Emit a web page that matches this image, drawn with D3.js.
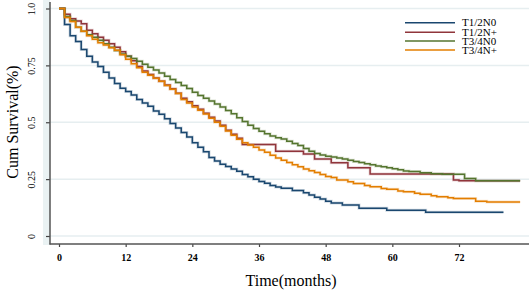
<!DOCTYPE html>
<html>
<head>
<meta charset="utf-8">
<script src="https://cdn.jsdelivr.net/npm/d3@7"></script>
<style>
  body { margin: 0; background: #fff; }
  svg text { font-family: "Liberation Serif", "Times New Roman", serif; fill: #000; }
</style>
</head>
<body>
<div id="chart"></div>
<script>
// series names and colours (Stata s2color)
const groups = ["T1/2N0", "T1/2N+", "T3/4N0", "T3/4N+"];
const colors = ["#1a476f", "#90353b", "#55752f", "#e37e00"];

const xTicks = [0, 12, 24, 36, 48, 60, 72];
const yTicks = [0, 0.25, 0.5, 0.75, 1.0];
const yTickLabels = ["0", "0.25", "0.5", "0.75", "1.0"];

// [month, survival] at each step
const t12n0 = [[0,1],[1,0.93],[2,0.88],[3,0.855],[4,0.82],[5,0.79],[6,0.765],[7,0.745],[8,0.72],[9,0.695],
  [10,0.67],[11,0.65],[12,0.635],[13,0.62],[14,0.6],[15,0.585],[16,0.57],[17,0.55],[18,0.535],[19,0.515],
  [20,0.495],[21,0.475],[22,0.455],[23,0.435],[24,0.41],[25,0.39],[26,0.37],[27,0.345],[28,0.33],[29,0.315],
  [30,0.305],[31,0.295],[32,0.285],[33,0.27],[34,0.26],[35,0.25],[36,0.24],[37,0.232],[38,0.222],[39,0.215],
  [40,0.21],[42,0.2],[44,0.19],[45,0.18],[46,0.17],[47,0.163],[48,0.153],[49,0.145],[51,0.136],[54,0.122],
  [59,0.113],[66,0.104],[80,0.104]];

const t12np = [[0,1],[1,0.975],[2,0.955],[3,0.945],[4,0.933],[5,0.904],[6,0.889],[7,0.874],[8,0.86],[9,0.845],
  [10,0.83],[11,0.81],[12,0.79],[13,0.77],[14,0.745],[15,0.725],[16,0.71],[17,0.695],[18,0.68],[19,0.664],
  [20,0.647],[21,0.628],[22,0.605],[23,0.59],[24,0.572],[25,0.557],[26,0.54],[27,0.522],[28,0.505],[29,0.487],
  [30,0.465],[31,0.447],[32,0.43],[33,0.402],[39,0.373],[44,0.36],[46,0.338],[49,0.322],[52,0.3],[56,0.272],
  [71,0.246],[72,0.243],[83,0.243]];

const t34n0 = [[0,1],[1,0.965],[2,0.947],[3,0.918],[4,0.9],[5,0.885],[6,0.874],[7,0.86],[8,0.845],[9,0.83],
  [10,0.815],[11,0.8],[12,0.79],[13,0.78],[14,0.768],[15,0.755],[16,0.742],[17,0.73],[18,0.716],[19,0.702],
  [20,0.688],[21,0.675],[22,0.662],[23,0.648],[24,0.632],[25,0.618],[26,0.605],[27,0.593],[28,0.58],[29,0.567],
  [30,0.552],[31,0.537],[32,0.52],[33,0.503],[34,0.487],[35,0.473],[36,0.46],[37,0.449],[38,0.44],[39,0.432],
  [40,0.426],[41,0.416],[42,0.407],[43,0.398],[44,0.385],[45,0.372],[46,0.363],[47,0.356],[48,0.351],[49,0.347],
  [50,0.343],[51,0.338],[52,0.333],[53,0.328],[54,0.323],[55,0.318],[56,0.313],[57,0.308],[58,0.304],[59,0.3],
  [60,0.296],[61,0.291],[62,0.286],[63,0.283],[65,0.278],[67,0.274],[69,0.271],[73,0.253],[75,0.243],[83,0.243]];

const t34np = [[0,1],[1,0.96],[2,0.943],[3,0.918],[4,0.9],[5,0.88],[6,0.865],[7,0.85],[8,0.84],[9,0.828],
  [10,0.816],[11,0.797],[12,0.777],[13,0.757],[14,0.74],[15,0.72],[16,0.707],[17,0.693],[18,0.68],[19,0.662],
  [20,0.645],[21,0.626],[22,0.6],[23,0.585],[24,0.567],[25,0.553],[26,0.536],[27,0.518],[28,0.5],[29,0.482],
  [30,0.462],[31,0.443],[32,0.425],[33,0.41],[34,0.4],[35,0.39],[36,0.378],[37,0.368],[38,0.355],[39,0.343],
  [40,0.333],[41,0.323],[42,0.313],[43,0.304],[44,0.295],[45,0.287],[46,0.279],[47,0.27],[48,0.262],[49,0.257],
  [50,0.246],[52,0.238],[53,0.231],[55,0.222],[56,0.216],[58,0.209],[59,0.205],[61,0.198],[62,0.194],[64,0.188],
  [65,0.184],[67,0.177],[68,0.172],[70,0.168],[71,0.165],[75,0.153],[77,0.15],[83,0.15]];

const seriesData = [t12n0, t12np, t34n0, t34np];

const width = 529, height = 293;
const svg = d3.select("#chart").append("svg")
  .attr("width", width).attr("height", height);

const x = d3.scaleLinear().domain([0, 72]).range([59, 459]);
const y = d3.scaleLinear().domain([0, 1]).range([236, 8.5]);

const axisX = 50, axisY = 244;

// light strip behind the y axis
svg.append("rect").attr("x", 43).attr("y", 0).attr("width", axisX - 43).attr("height", axisY + 1)
  .attr("fill", "#eaf2f3");

// gridlines
svg.append("g").selectAll("line").data(yTicks).enter().append("line")
  .attr("x1", axisX).attr("x2", width)
  .attr("y1", d => y(d)).attr("y2", d => y(d))
  .attr("stroke", "#e6eef0").attr("stroke-width", 1.5);

// y axis
const yAxis = svg.append("g").attr("transform", `translate(${axisX},0)`)
  .call(d3.axisLeft(y).tickValues(yTicks).tickSize(4).tickFormat((d, i) => yTickLabels[i]));
yAxis.select(".domain").remove();
yAxis.selectAll(".tick line").attr("stroke", "#444").attr("stroke-width", 1.2);
yAxis.selectAll(".tick text")
  .attr("transform", "rotate(-90)")
  .attr("x", 0).attr("y", -15).attr("dy", 0)
  .attr("text-anchor", "middle")
  .style("font-family", "'Liberation Serif', serif").style("font-size", "10px");
svg.append("line").attr("x1", axisX).attr("x2", axisX).attr("y1", 2).attr("y2", axisY + 0.5)
  .attr("stroke", "#555").attr("stroke-width", 1.5);

// x axis
const xAxis = svg.append("g").attr("transform", `translate(0,${axisY})`)
  .call(d3.axisBottom(x).tickValues(xTicks).tickSize(3));
xAxis.select(".domain").remove();
xAxis.selectAll(".tick line").attr("stroke", "#444").attr("stroke-width", 1.2);
xAxis.selectAll(".tick text")
  .attr("y", 17).attr("dy", 0)
  .style("font-family", "'Liberation Serif', serif").style("font-size", "10px").style("font-weight", "bold");
svg.append("line").attr("x1", axisX - 0.5).attr("x2", width).attr("y1", axisY).attr("y2", axisY)
  .attr("stroke", "#555").attr("stroke-width", 1.5);

// axis titles
svg.append("text").attr("x", 291).attr("y", 286).attr("text-anchor", "middle")
  .style("font-size", "16px").text("Time(months)");
svg.append("text").attr("transform", "translate(18,122) rotate(-90)").attr("text-anchor", "middle")
  .style("font-size", "16px").text("Cum Survival(%)");

// survival curves
const line = d3.line().x(d => x(d[0])).y(d => y(d[1])).curve(d3.curveStepAfter);
seriesData.forEach((s, i) => {
  svg.append("path").datum(s).attr("d", line)
    .attr("fill", "none").attr("stroke", colors[i]).attr("stroke-width", 3).attr("opacity", 0.2);
  svg.append("path").datum(s).attr("d", line)
    .attr("fill", "none").attr("stroke", colors[i]).attr("stroke-width", 1.5);
});

// legend
const legend = svg.append("g");
const legY = [22.7, 32.3, 41, 50];
groups.forEach((g, i) => {
  legend.append("line").attr("x1", 405).attr("x2", 455).attr("y1", legY[i]).attr("y2", legY[i])
    .attr("stroke", colors[i]).attr("stroke-width", 1.5);
  legend.append("text").attr("x", 462).attr("y", legY[i] + 3.5)
    .style("font-size", "11px").text(g);
});
</script>
</body>
</html>
